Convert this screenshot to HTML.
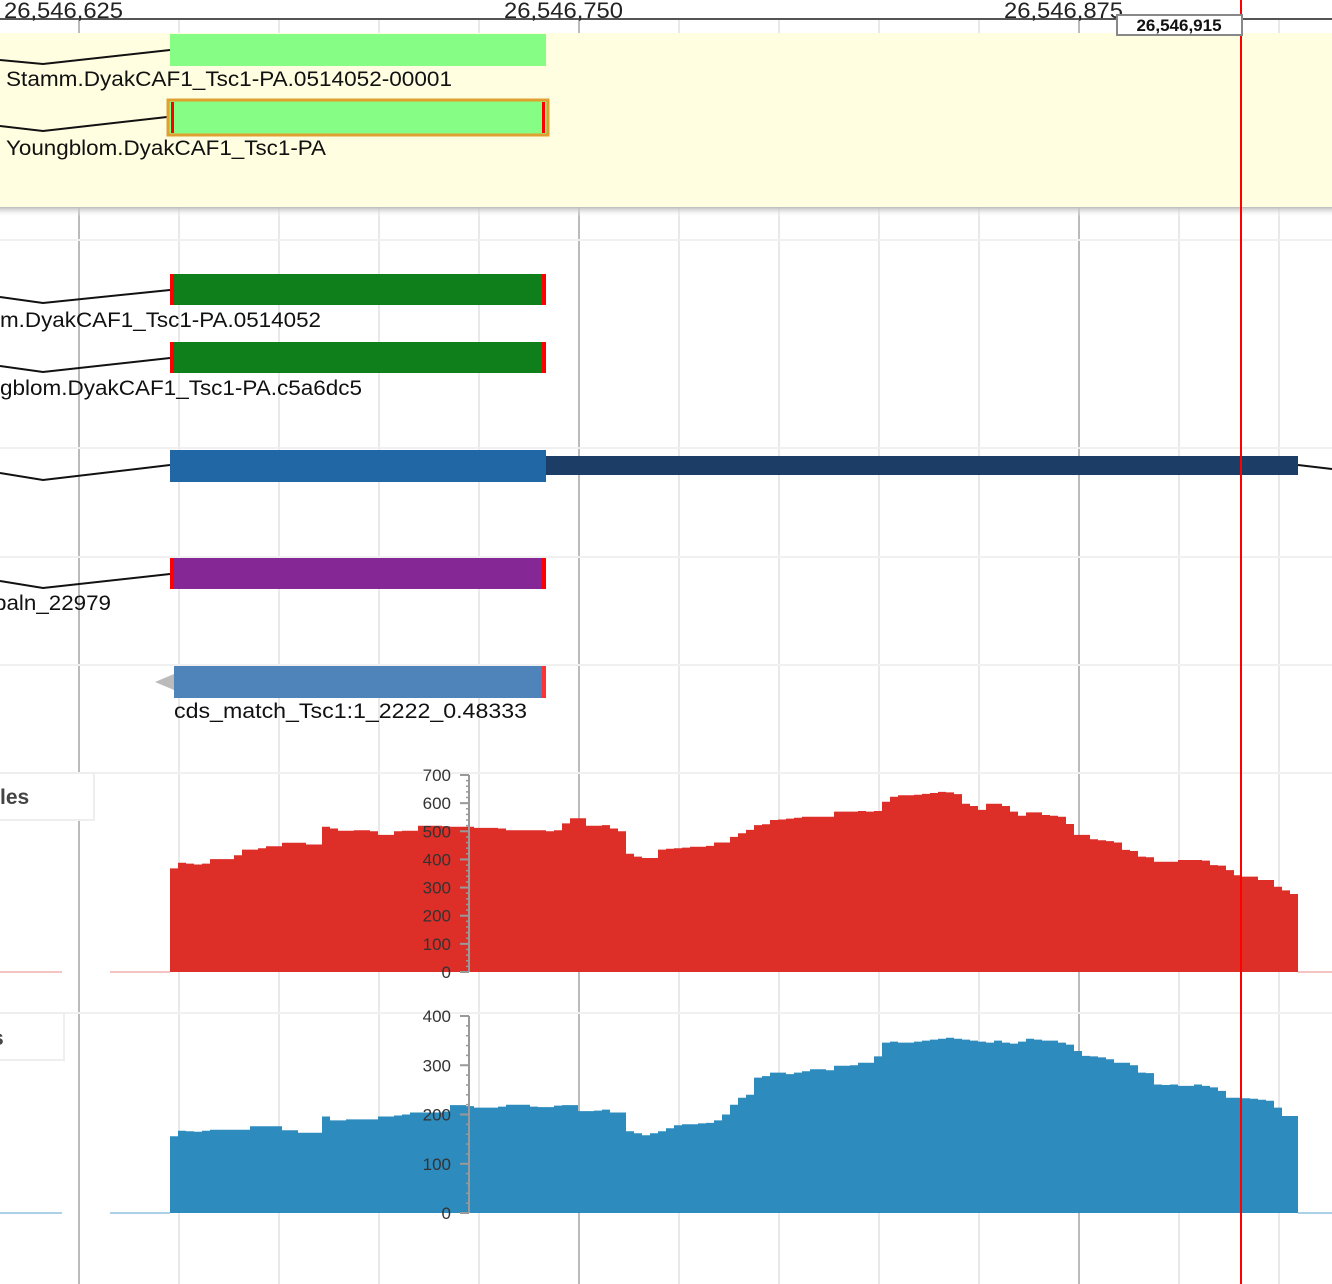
<!DOCTYPE html>
<html><head><meta charset="utf-8">
<style>
html,body{margin:0;padding:0;background:#fff;}
svg{display:block;font-family:"Liberation Sans","DejaVu Sans",sans-serif;}
</style></head>
<body>
<svg id="s" width="1332" height="1284" viewBox="0 0 1332 1284" xmlns="http://www.w3.org/2000/svg">
<defs>
<linearGradient id="sh" x1="0" y1="0" x2="0" y2="1"><stop offset="0" stop-color="#bbb"/><stop offset="1" stop-color="#fff" stop-opacity="0"/></linearGradient>
</defs>
<g id="grid"></g>
<g stroke="#f0f0f0" stroke-width="2">
<line x1="0" y1="240" x2="1332" y2="240"/><line x1="0" y1="448" x2="1332" y2="448"/>
<line x1="0" y1="557" x2="1332" y2="557"/><line x1="0" y1="665" x2="1332" y2="665"/>
<line x1="0" y1="773" x2="1332" y2="773"/><line x1="0" y1="1013" x2="1332" y2="1013"/>
</g>
<g>
<line x1="0" y1="19" x2="1332" y2="19" stroke="#555" stroke-width="2"/>
<text x="4" y="18" font-size="22" fill="#222" textLength="119" lengthAdjust="spacingAndGlyphs">26,546,625</text>
<text x="504" y="18" font-size="22" fill="#222" textLength="119" lengthAdjust="spacingAndGlyphs">26,546,750</text>
<text x="1004" y="18" font-size="22" fill="#222" textLength="119" lengthAdjust="spacingAndGlyphs">26,546,875</text>
</g>
<rect x="0" y="207" width="1332" height="10" fill="url(#sh)"/>
<rect x="0" y="33" width="1332" height="174" fill="#fffee0"/>
<g>
<polyline points="0,60 43,64 170,50" fill="none" stroke="#111" stroke-width="2"/>
<rect x="170" y="34" width="376" height="32" fill="#86fe86"/>
<text x="6" y="86" font-size="21" fill="#111" textLength="446" lengthAdjust="spacingAndGlyphs">Stamm.DyakCAF1_Tsc1-PA.0514052-00001</text>
</g>
<g>
<polyline points="0,126 43,131 167,117" fill="none" stroke="#111" stroke-width="2"/>
<rect x="168" y="100" width="380" height="35" fill="#86fe86" stroke="#e0a030" stroke-width="3"/>
<rect x="171" y="102" width="3" height="31" fill="#f00"/><rect x="542" y="102" width="3" height="31" fill="#f00"/>
<text x="6" y="155" font-size="21" fill="#111" textLength="320" lengthAdjust="spacingAndGlyphs">Youngblom.DyakCAF1_Tsc1-PA</text>
</g>
<g>
<polyline points="0,297 43,303 170,290" fill="none" stroke="#111" stroke-width="2"/>
<rect x="170" y="274" width="376" height="31" fill="#0f7f1c"/>
<rect x="170" y="274" width="4" height="31" fill="#f00"/><rect x="542" y="274" width="4" height="31" fill="#f00"/>
<text x="0" y="327" font-size="21" fill="#111" textLength="321" lengthAdjust="spacingAndGlyphs">m.DyakCAF1_Tsc1-PA.0514052</text>
</g>
<g>
<polyline points="0,366 43,372 170,358" fill="none" stroke="#111" stroke-width="2"/>
<rect x="170" y="342" width="376" height="31" fill="#0f7f1c"/>
<rect x="170" y="342" width="4" height="31" fill="#f00"/><rect x="542" y="342" width="4" height="31" fill="#f00"/>
<text x="0" y="395" font-size="21" fill="#111" textLength="362" lengthAdjust="spacingAndGlyphs">gblom.DyakCAF1_Tsc1-PA.c5a6dc5</text>
</g>
<g>
<polyline points="0,473 43,480 170,465" fill="none" stroke="#111" stroke-width="2"/>
<rect x="546" y="456" width="752" height="19" fill="#1b3d66"/>
<line x1="1298" y1="465" x2="1332" y2="469" stroke="#111" stroke-width="2"/>
<rect x="170" y="450" width="376" height="32" fill="#2166a5"/>
</g>
<g>
<polyline points="0,581 43,588 170,574" fill="none" stroke="#111" stroke-width="2"/>
<rect x="170" y="558" width="376" height="31" fill="#852896"/>
<rect x="170" y="558" width="4" height="31" fill="#f00"/><rect x="542" y="558" width="4" height="31" fill="#f00"/>
<text x="-6" y="610" font-size="21" fill="#111" textLength="117" lengthAdjust="spacingAndGlyphs">paln_22979</text>
</g>
<g>
<polygon points="155,682 174,674 174,690" fill="#bbb"/>
<rect x="174" y="666" width="372" height="32" fill="#4f84bb"/>
<rect x="542" y="666" width="4" height="32" fill="#f33"/>
<text x="174" y="718" font-size="21" fill="#111" textLength="353" lengthAdjust="spacingAndGlyphs">cds_match_Tsc1:1_2222_0.48333</text>
</g>
<g>
<rect x="-5" y="773" width="99" height="47" fill="#fff" stroke="#eee" stroke-width="2"/>
<text x="0" y="804" font-size="21" font-weight="bold" fill="#444">les</text>
</g>
<g>
<rect x="-5" y="1013" width="69" height="47" fill="#fff" stroke="#eee" stroke-width="2"/>
<text x="-8" y="1045" font-size="21" font-weight="bold" fill="#444">s</text>
</g>
<g id="chart1"></g>
<g id="chart2"></g>
<line x1="1241" y1="0" x2="1241" y2="1284" stroke="#f00" stroke-width="2"/>
<g>
<rect x="1117" y="15" width="125" height="20" fill="#fff" stroke="#888" stroke-width="2"/>
<text x="1179" y="31" font-size="17" font-weight="bold" text-anchor="middle" fill="#111">26,546,915</text>
</g>
</svg>
<script>
const redValues=[368,388,385,382,385,401,401,401,415,435,435,440,447,447,459,459,459,453,453,516,510,502,502,504,504,500,487,487,500,502,502,520,520,520,518,516,516,516,512,512,512,510,504,504,504,504,504,500,504,528,546,546,520,520,522,510,500,420,410,405,405,435,438,440,442,445,445,448,460,460,480,493,505,522,525,540,542,545,548,552,552,552,552,570,570,570,572,570,572,605,623,628,628,630,633,636,640,638,632,598,590,576,598,598,590,570,555,567,567,558,555,552,526,487,487,472,468,465,460,434,430,410,408,392,392,392,398,398,398,396,380,378,362,344,339,339,327,327,303,290,277];
const blueValues=[156,167,166,165,167,169,169,169,169,169,176,176,176,176,168,168,163,163,163,196,188,188,190,190,190,190,196,196,198,200,204,204,204,204,206,219,219,217,214,214,214,216,220,220,220,216,215,215,218,219,219,207,207,208,210,204,204,166,162,158,162,166,172,178,180,180,182,183,188,200,220,234,240,275,278,285,285,282,285,288,292,292,290,299,299,300,305,305,318,346,348,346,346,348,350,352,354,356,354,352,350,348,346,350,346,344,348,354,352,350,350,346,342,329,319,318,316,312,305,305,300,285,284,261,260,261,258,258,261,258,255,248,234,234,233,232,230,228,214,197,197];
const redTicks=[0,100,200,300,400,500,600,700];
const blueTicks=[0,100,200,300,400];
const NS="http://www.w3.org/2000/svg";
function mk(t,a,p){const e=document.createElementNS(NS,t);for(const k in a)e.setAttribute(k,a[k]);p.appendChild(e);return e;}
const g=document.getElementById('grid');
for(let x=79;x<1332;x+=100){
  const l=mk('line',{x1:x,y1:19,x2:x,y2:1284,stroke:((x-79)%500===0)?'#bbb':'#e9e9e9','stroke-width':2},g);
  
  
}
const x0=170,bw=8,axisX=469;
function chart(id,vals,ticks,maxV,yTop,yBase,color,base){
  const G=document.getElementById(id);
  const ys=v=>yBase-(v/maxV)*(yBase-yTop);
  mk('line',{x1:0,y1:yBase,x2:62,y2:yBase,stroke:base,'stroke-width':1.5},G);
  mk('line',{x1:110,y1:yBase,x2:170,y2:yBase,stroke:base,'stroke-width':1.5},G);
  mk('line',{x1:1298,y1:yBase,x2:1332,y2:yBase,stroke:base,'stroke-width':1.5},G);
  let d='M'+x0+','+yBase;
  vals.forEach((v,i)=>{const y=ys(v).toFixed(1);d+=' L'+(x0+i*bw)+','+y+' L'+(x0+(i+1)*bw)+','+y;});
  d+=' L'+(x0+vals.length*bw)+','+yBase+' Z';
  const p=mk('path',{d:d,fill:color},G);
  
  
  const ax=mk('line',{x1:axisX,y1:yTop,x2:axisX,y2:yBase,stroke:'#999','stroke-width':2},G);
  
  
  const step=ticks[1]-ticks[0];
  for(let v=0;v<=maxV;v+=step/5){mk('line',{x1:axisX-3,y1:ys(v),x2:axisX,y2:ys(v),stroke:'#999','stroke-width':1.5},G);}
  ticks.forEach(t=>{
    mk('line',{x1:axisX-9,y1:ys(t),x2:axisX,y2:ys(t),stroke:'#999','stroke-width':2},G);
    const tx=mk('text',{x:451,y:ys(t)+6,'font-size':17,'text-anchor':'end',fill:'#333'},G);
    tx.textContent=t;
    
    
  });
}
chart('chart1',redValues,redTicks,700,775,972,'#dd2e28','#f2b0ae');
chart('chart2',blueValues,blueTicks,400,1016,1213,'#2d8bbd','#8fc2de');
</script>
</body></html>
